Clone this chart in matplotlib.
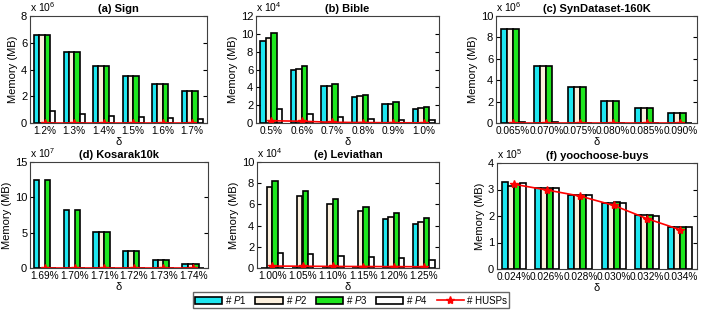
import numpy as np
import matplotlib.pyplot as plt
from matplotlib.lines import Line2D
from matplotlib.patches import Patch

plt.rcParams['font.family'] = ['Liberation Sans', 'DejaVu Sans']
plt.rcParams['mathtext.fontset'] = 'custom'
plt.rcParams['mathtext.it'] = 'Liberation Sans:italic'
plt.rcParams['mathtext.rm'] = 'Liberation Sans'

# values in units of 10^exp
sign_x = ['1.2%', '1.3%', '1.4%', '1.5%', '1.6%', '1.7%']
sign_p1 = [6.6, 5.3, 4.25, 3.5, 2.9, 2.42]
sign_p2 = [6.6, 5.3, 4.25, 3.5, 2.9, 2.42]
sign_p3 = [6.6, 5.3, 4.25, 3.5, 2.9, 2.42]
sign_p4 = [0.9, 0.7, 0.55, 0.45, 0.38, 0.32]
sign_husp = [0.02, 0.02, 0.02, 0.02, 0.02, 0.02]

bible_x = ['0.5%', '0.6%', '0.7%', '0.8%', '0.9%', '1.0%']
bible_p1 = [9.2, 5.9, 4.1, 2.9, 2.1, 1.6]
bible_p2 = [9.5, 6.05, 4.2, 3.0, 2.15, 1.65]
bible_p3 = [10.1, 6.4, 4.4, 3.15, 2.35, 1.75]
bible_p4 = [1.55, 1.0, 0.7, 0.5, 0.38, 0.3]
bible_husp = [0.25, 0.2, 0.08, 0.05, 0.03, 0.02]

syn_x = ['0.065%', '0.070%', '0.075%', '0.080%', '0.085%', '0.090%']
syn_p1 = [8.8, 5.35, 3.35, 2.1, 1.4, 0.95]
syn_p2 = [8.8, 5.35, 3.35, 2.1, 1.4, 0.95]
syn_p3 = [8.8, 5.35, 3.35, 2.1, 1.4, 0.95]
syn_p4 = [0.08, 0.05, 0.03, 0.02, 0.01, 0.01]
syn_husp = [0.02, 0.02, 0.02, 0.02, 0.02, 0.02]

kos_x = ['1.69%', '1.70%', '1.71%', '1.72%', '1.73%', '1.74%']
kos_p1 = [12.5, 8.2, 5.1, 2.4, 1.15, 0.55]
kos_p2 = [0, 0, 5.1, 2.4, 1.15, 0.55]
kos_p3 = [12.5, 8.2, 5.1, 2.4, 1.15, 0.55]
kos_p4 = [0.01, 0.01, 0.01, 0.01, 0.01, 0.02]
kos_husp = [0.02, 0.02, 0.02, 0.02, 0.02, 0.02]

lev_x = ['1.00%', '1.05%', '1.10%', '1.15%', '1.20%', '1.25%']
lev_p1 = [0, 0, 0, 0, 4.6, 4.15]
lev_p2 = [7.6, 6.75, 6.0, 5.4, 4.8, 4.3]
lev_p3 = [8.2, 7.3, 6.5, 5.8, 5.2, 4.7]
lev_p4 = [1.45, 1.3, 1.15, 1.0, 0.9, 0.8]
lev_husp = [0.18, 0.17, 0.15, 0.14, 0.13, 0.12]

yoo_x = ['0.024%', '0.026%', '0.028%', '0.030%', '0.032%', '0.034%']
yoo_p1 = [3.27, 3.05, 2.8, 2.5, 2.03, 1.58]
yoo_p2 = [3.15, 3.05, 2.8, 2.5, 2.02, 1.58]
yoo_p3 = [3.2, 3.07, 2.8, 2.52, 2.03, 1.6]
yoo_p4 = [3.25, 3.05, 2.78, 2.5, 2.0, 1.58]
yoo_husp = [3.2, 2.98, 2.75, 2.4, 1.9, 1.48]

panels = [
    ('(a) Sign', sign_x, [sign_p1, sign_p2, sign_p3, sign_p4], sign_husp, 6, 8, 2),
    ('(b) Bible', bible_x, [bible_p1, bible_p2, bible_p3, bible_p4], bible_husp, 4, 12, 2),
    ('(c) SynDataset-160K', syn_x, [syn_p1, syn_p2, syn_p3, syn_p4], syn_husp, 6, 10, 2),
    ('(d) Kosarak10k', kos_x, [kos_p1, kos_p2, kos_p3, kos_p4], kos_husp, 7, 15, 5),
    ('(e) Leviathan', lev_x, [lev_p1, lev_p2, lev_p3, lev_p4], lev_husp, 4, 10, 2),
    ('(f) yoochoose-buys', yoo_x, [yoo_p1, yoo_p2, yoo_p3, yoo_p4], yoo_husp, 5, 4, 1),
]

colors = ['#1ee6f0', '#fbefdc', '#1ee61e', '#ffffff']
W, H = 706, 313
# pixel boxes: left, right, top, bottom
boxes = [(30, 207, 16, 123), (256, 439, 16, 123), (496, 697, 16, 123),
         (30, 208, 162, 268), (257, 439, 162, 268), (497, 697, 163, 269)]

fig = plt.figure(figsize=(W / 100, H / 100), dpi=100)
bw = 0.18
offs = [-1.5 * bw, -0.5 * bw, 0.5 * bw, 1.5 * bw]
for (title, xl, series, husp, ex, ymax, ystep), (l, r, t, b) in zip(panels, boxes):
    ax = fig.add_axes([l / W, 1 - b / H, (r - l) / W, (b - t) / H])
    x = np.arange(1, 7)
    for s, c, o in zip(series, colors, offs):
        ax.bar(x + o, s, bw, color=c, edgecolor='black', linewidth=1.2)
    ax.plot(x, husp, '-*', color='red', lw=1.2, ms=6)
    ax.set_xlim(0.5, 6.5)
    ax.set_ylim(0, ymax)
    ax.set_yticks(np.arange(0, ymax + 0.01, ystep))
    ax.set_xticks(x)
    ax.set_xticklabels(xl)
    ax.tick_params(direction='in', labelsize=8, length=3, right=True, pad=2)
    ax.tick_params(axis='x', length=0, labelsize=7.3)
    for sp in ax.spines.values():
        sp.set_color('#404040')
    ax.set_title(title, fontsize=8, fontweight='bold', pad=3)
    ax.set_ylabel('Memory (MB)', fontsize=8, labelpad=2)
    ax.set_xlabel('δ', fontsize=8, labelpad=1)
    ax.text(0, 1.015, r'x 10$^{%d}$' % ex, transform=ax.transAxes, fontsize=7.5,
            va='bottom', ha='left')

handles = [Patch(facecolor=c, edgecolor='black', linewidth=1.2) for c in colors]
handles.append(Line2D([], [], color='red', marker='*', lw=1.2, ms=6))
labels = [r'# $P$1', r'# $P$2', r'# $P$3', r'# $P$4', '# HUSPs']
fig.legend(handles, labels, loc='center', bbox_to_anchor=(351 / W, 1 - 300 / H),
           ncol=5, fontsize=7, frameon=True, fancybox=False, edgecolor='#404040',
           handlelength=2.8, handleheight=0.8, columnspacing=0.9, borderpad=0.25,
           handletextpad=0.3)
fig.savefig('out.png', dpi=100)
